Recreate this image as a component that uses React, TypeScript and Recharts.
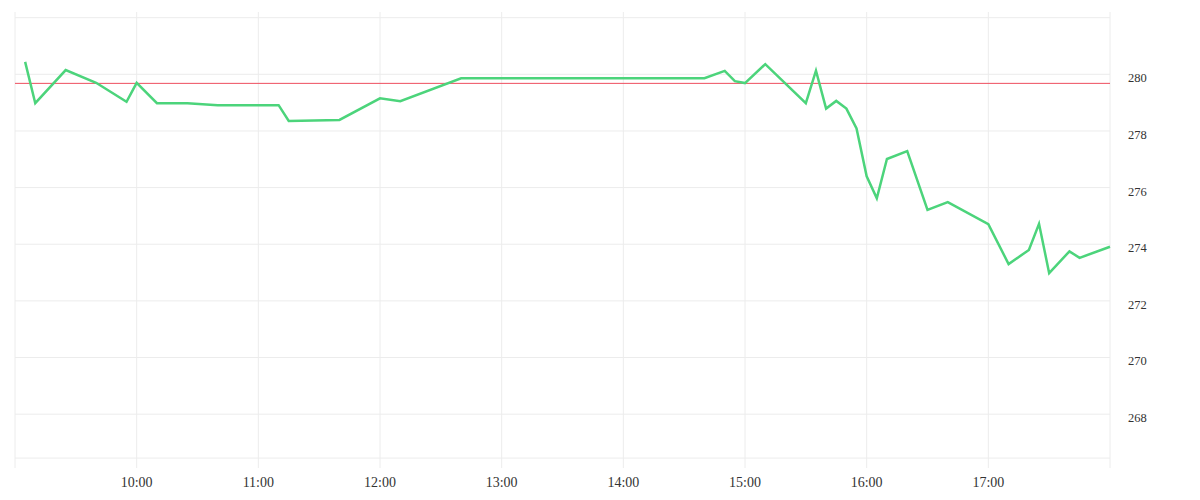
import { Line, LineChart, ReferenceLine, XAxis, YAxis } from "recharts";

// intraday quotes, one point per trade time
const times = [
    "09:05", "09:10", "09:25", "09:40", "09:55", "10:00", "10:10", "10:25", "10:40", "11:10",
    "11:15", "11:40", "12:00", "12:10", "12:40", "14:40", "14:50", "14:55", "15:00", "15:10",
    "15:30", "15:35", "15:40", "15:45", "15:50", "15:55", "16:00", "16:05", "16:10", "16:20",
    "16:30", "16:40", "17:00", "17:10", "17:20", "17:25", "17:30", "17:40", "17:45", "18:00",
];
const prices = [
    280.44, 278.98, 280.15, 279.7, 279.03, 279.7, 278.98, 278.98, 278.91, 278.91,
    278.35, 278.39, 279.15, 279.05, 279.86, 279.86, 280.12, 279.76, 279.69, 280.36,
    278.98, 280.13, 278.79, 279.06, 278.79, 278.09, 276.4, 275.62, 277.01, 277.29,
    275.21, 275.49, 274.71, 273.3, 273.8, 274.72, 272.98, 273.75, 273.52, 273.91,
];
const prevClose = 279.68;
const hourTicks = ["10:00", "11:00", "12:00", "13:00", "14:00", "15:00", "16:00", "17:00"];
const priceTicks = [268, 270, 272, 274, 276, 278, 280];
// grid rows without a label (top and bottom of the price range)
const edgeRows = [282, 266.45];
const sessionStart = "09:00";
const sessionEnd = "18:00";

const toMin = (t: string) => {
    const [h, m] = t.split(":").map(Number);
    return h * 60 + m;
};
const fmt = (v: number) => `${Math.floor(v / 60)}:${String(v % 60).padStart(2, "0")}`;

const data = times.map((t, i) => ({ t: toMin(t), price: prices[i] }));
const gridColor = "#ececec";
const cols = [sessionStart, ...hourTicks, sessionEnd].map(toMin);
const rows = [...priceTicks, ...edgeRows];

export default function App() {
    return (
        <LineChart width={1192} height={492} data={data} margin={{ top: 4, right: 0, left: 7, bottom: 2 }}>
            {cols.map((c) => (
                <ReferenceLine key={`c${c}`} x={c} stroke={gridColor} />
            ))}
            {rows.map((r) => (
                <ReferenceLine key={`r${r}`} y={r} stroke={gridColor} />
            ))}
            <XAxis
                dataKey="t"
                type="number"
                domain={[toMin(sessionStart), toMin(sessionEnd)]}
                ticks={hourTicks.map(toMin)}
                tickFormatter={fmt}
                height={30}
                axisLine={false}
                tickLine={false}
                tickMargin={3.5}
                tick={{ fill: "#333", fontSize: 14 }}
            />
            <YAxis
                orientation="right"
                domain={[266.1, 282.2]}
                allowDataOverflow
                ticks={priceTicks}
                width={90}
                axisLine={false}
                tickLine={false}
                tickMargin={12}
                tick={{ fill: "#333", fontSize: 12.5, dy: 3.5 }}
            />
            <ReferenceLine y={prevClose} stroke="#ee4e5e" strokeWidth={1} />
            <Line type="linear" dataKey="price" stroke="#4cd47b" strokeWidth={2.5} dot={false} isAnimationActive={false} />
        </LineChart>
    );
}
